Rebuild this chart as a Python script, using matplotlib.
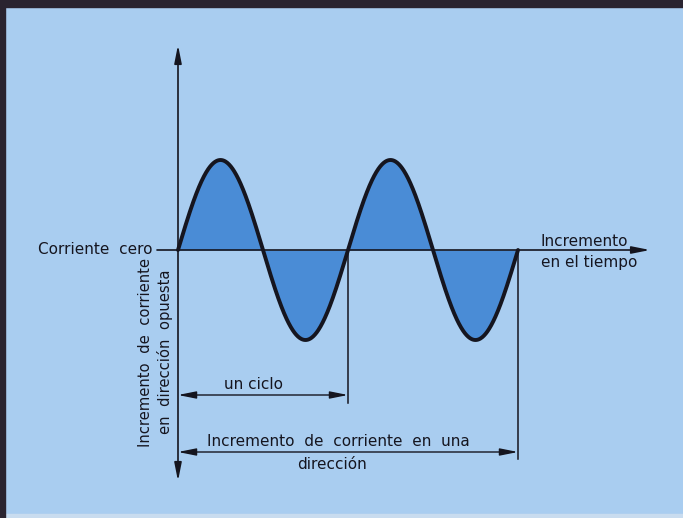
import numpy as np
import matplotlib
matplotlib.use("Agg")
import matplotlib.pyplot as plt
from matplotlib.patches import Rectangle

# ---- data ----
n_cycles = 2            # number of full cycles drawn
amplitude = 1.0         # normalised peak current
zero_label = "Corriente  cero"
time_label = ["Incremento", "en el tiempo"]
neg_label = ["Incremento  de  corriente", "en  dirección  opuesta"]
cycle_label = "un ciclo"
pos_label = ["Incremento  de  corriente  en  una", "dirección"]

# ---- styling / layout ----
W, H = 683, 518
X0, Y0 = 178, 250        # pixel position of origin
PX_CYCLE, PX_AMP = 170, 90
BG = "#a9cdf0"
FILL = "#4a8cd6"
INK = "#15151f"

fig = plt.figure(figsize=(W / 100, H / 100), dpi=100)
fig.patch.set_facecolor(BG)
ax = fig.add_axes([0, 0, 1, 1])
ax.set_facecolor(BG)
ax.set_xlim(-X0 / PX_CYCLE, (W - X0) / PX_CYCLE)
ax.set_ylim(-(H - Y0) / PX_AMP, Y0 / PX_AMP)
ax.axis("off")

def px(x):
    return (x - X0) / PX_CYCLE

def py(y):
    return (Y0 - y) / PX_AMP

# wave
t = np.linspace(0, n_cycles, 800)
v = amplitude * np.sin(2 * np.pi * t)
ax.fill_between(t, v, 0, color=FILL, lw=0, zorder=2)
ax.plot(t, v, color=INK, lw=2.8, zorder=4, solid_capstyle="round")

arrow = dict(arrowstyle="-|>,head_length=0.9,head_width=0.18", color=INK,
             lw=1.2, shrinkA=0, shrinkB=0, mutation_scale=12)
darrow = dict(arrowstyle="<|-|>,head_length=0.9,head_width=0.18", color=INK,
              lw=1.0, shrinkA=0, shrinkB=0, mutation_scale=12)

# axes lines
ax.annotate("", xy=(0, py(45)), xytext=(0, 0), arrowprops=arrow, zorder=3)
ax.annotate("", xy=(0, py(481)), xytext=(0, 0), arrowprops=arrow, zorder=3)
ax.annotate("", xy=(px(650), 0), xytext=(px(157), 0), arrowprops=arrow, zorder=3)

# vertical markers
ax.plot([1, 1], [0, py(403)], color=INK, lw=1.1, zorder=3)
ax.plot([n_cycles, n_cycles], [0, py(459)], color=INK, lw=1.1, zorder=3)

# dimension arrows
ax.annotate("", xy=(0, py(395)), xytext=(1, py(395)), arrowprops=darrow, zorder=3)
ax.annotate("", xy=(0, py(452)), xytext=(n_cycles, py(452)), arrowprops=darrow, zorder=3)

fs = 11
txt = dict(color=INK, fontsize=fs, family="DejaVu Sans")
ax.text(px(153), 0, zero_label, ha="right", va="center", **txt)
ax.text(px(541), py(242), time_label[0], ha="left", va="center", **txt)
ax.text(px(541), py(263), time_label[1], ha="left", va="center", **txt)
ax.text(px(146), py(353), neg_label[0], ha="center", va="center", rotation=90,
        color=INK, fontsize=10.6, family="DejaVu Sans")
ax.text(px(165), py(352), neg_label[1], ha="center", va="center", rotation=90,
        color=INK, fontsize=10.6, family="DejaVu Sans")
ax.text(px(253), py(385), cycle_label, ha="center", va="center", **txt)
ax.text(px(338), py(442), pos_label[0], ha="center", va="center", **txt)
ax.text(px(332), py(465), pos_label[1], ha="center", va="center", **txt)

# scanned page border
fig.patches.append(Rectangle((0, 1 - 7 / H), 1, 7 / H, transform=fig.transFigure,
                             color="#2a2430", zorder=10))
fig.patches.append(Rectangle((0, 0), 5 / W, 1, transform=fig.transFigure,
                             color="#2a2430", zorder=10))
fig.patches.append(Rectangle((0, 0), 1, 4 / H, transform=fig.transFigure,
                             color="#c9dcef", zorder=9))

fig.savefig("out.png", dpi=100, facecolor=BG)
